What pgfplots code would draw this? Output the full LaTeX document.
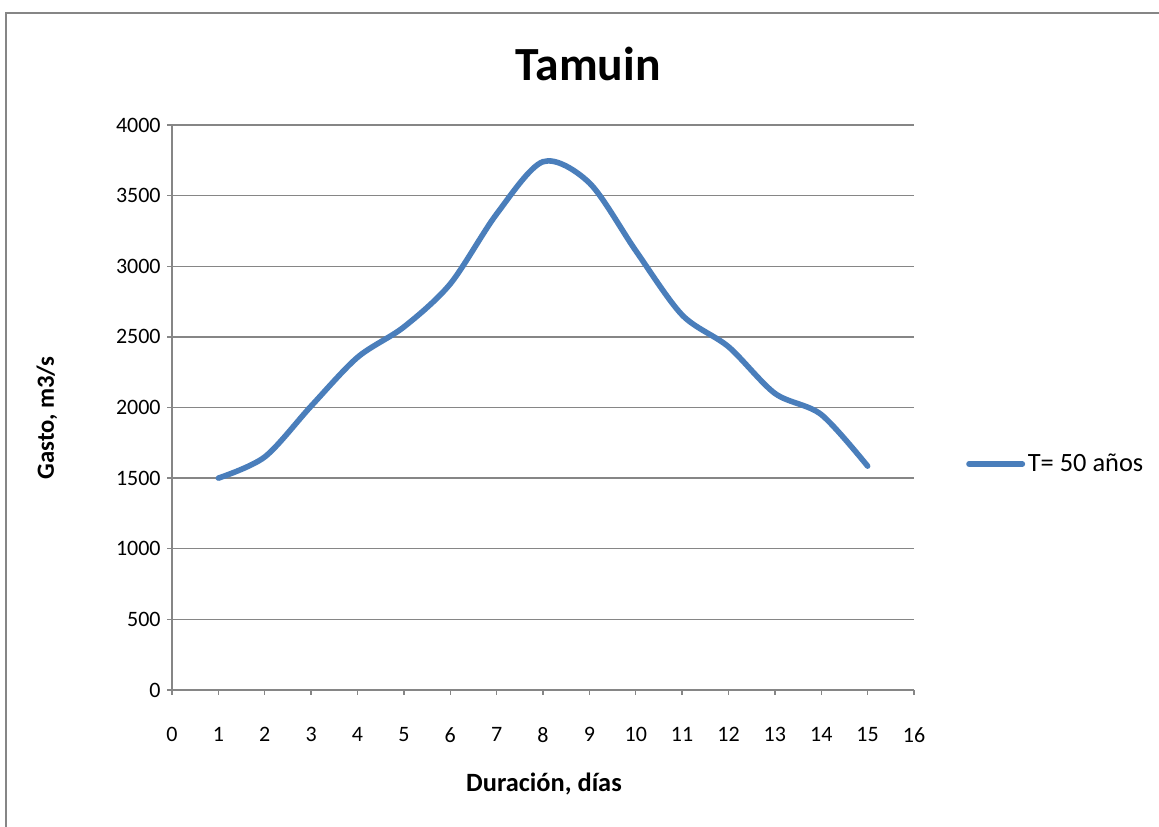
\documentclass[border=0pt]{standalone}
\usepackage{pgfplots}
\pgfplotsset{compat=1.18}
\usepackage{fontspec}
\setmainfont{Carlito}
\definecolor{gridgray}{HTML}{868686}
\definecolor{lineblue}{HTML}{4A7EBB}
\begin{document}
\begin{tikzpicture}[x=0.75pt,y=0.75pt]
\useasboundingbox (0,0) rectangle (1159,827);
\fill[white] (0,0) rectangle (1159,827);
\draw[gridgray, line width=1.5pt] (6,-10) -- (6,814) -- (1170,814);
\begin{axis}[
  at={(129pt,102.75pt)}, anchor=south west,
  scale only axis,
  width=556.5pt, height=423.75pt,
  xmin=0, xmax=16, ymin=0, ymax=4000,
  xtick={0,1,...,16},
  ytick={0,500,...,4000},
  axis x line*=bottom, axis y line*=left,
  axis line style={-, draw=gridgray, line width=1pt},
  ymajorgrids, grid style={gridgray, line width=1pt},
  tick align=outside, major tick length=3.5pt,
  tick style={gridgray, line width=1pt},
  /pgf/number format/1000 sep={},
  /pgf/number format/assume math mode=true,
  tick label style={font=\fontsize{16.5}{19}\selectfont, text=black},
  every x tick label/.append style={yshift=-21pt},
  every y tick label/.append style={xshift=-1.5pt},
  legend style={at={(rel axis cs:1.07,0.4)}, anchor=west, draw=none, fill=none,
    font=\fontsize{19.8}{23}\selectfont, inner sep=0pt},
  legend image code/.code={\draw[#1, line width=4.2pt] (0pt,0pt) -- (40pt,0pt);},
  clip=false,
]
\addplot[lineblue, line width=4.2pt, smooth, tension=0.5, line cap=round] coordinates {
(1,1500) (2,1650) (3,2010) (4,2355) (5,2570) (6,2875) (7,3370) (8,3740) (9,3590) (10,3110) (11,2655) (12,2430) (13,2100) (14,1950) (15,1585)
};
\addlegendentry{T= 50 años}
\end{axis}
\node[font=\fontsize{35.7}{42}\selectfont\bfseries] at (588,763) {Tamuin};
\node[font=\fontsize{19.8}{23}\selectfont\bfseries] at (544,43) {Duración, días};
\node[font=\fontsize{18.5}{22}\selectfont\bfseries, rotate=90] at (47,409) {Gasto, m3/s};
\end{tikzpicture}
\end{document}
